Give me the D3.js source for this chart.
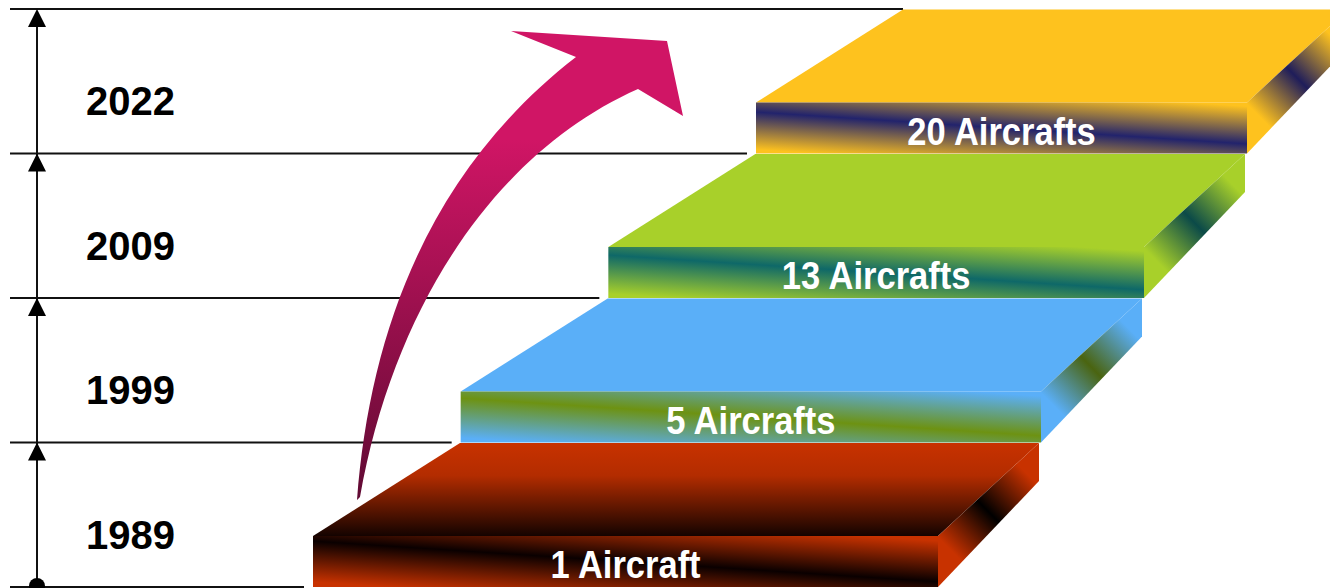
<!DOCTYPE html>
<html>
<head>
<meta charset="utf-8">
<script src="https://cdn.jsdelivr.net/npm/d3@7.9.0/dist/d3.min.js"></script>
<style>
  html, body { margin: 0; padding: 0; background: #fff; overflow: hidden; }
  svg { display: block; font-family: "Liberation Sans", Arial, sans-serif; }
  .grid-line { stroke: #111; stroke-width: 2; }
  .year-label { font-size: 40px; font-weight: bold; fill: #000; }
  .step-label { font-size: 39px; font-weight: bold; fill: #fff; }
</style>
</head>
<body>
<div id="chart"></div>
<script>
// data
const years = ["1989", "1999", "2009", "2022"];
const aircraftCounts = [1, 5, 13, 20];
const stepLabels = aircraftCounts.map(n => n === 1 ? `${n} Aircraft` : `${n} Aircrafts`);

// colours per step: base, band (front), band (side)
const baseColors = ["#c83200", "#5aaff8", "#a8d02a", "#fec21e"];
const bandColors = ["#0a0000", "#6d9212", "#0e6868", "#22236c"];
const sideBands = ["#000000", "#4a6410", "#0b4a48", "#1f1d5a"];

const width = 1330, height = 588;
const frontH = 51;          // front face height
const depthLeft = 147;      // top face shift, left edge
const depthRight = 101;     // top face shift, right edge
const depthY = 93;          // top face depth (vertical)
const sideBack = 38;        // side face height at the back

const svg = d3.select("#chart").append("svg")
  .attr("width", width)
  .attr("height", height);

const defs = svg.append("defs");

// scales
const idx = d3.range(years.length);
const yLevel = d3.scaleLinear().domain([0, years.length]).range([587, 9]);
const xLeft = d3.scaleLinear().domain([0, years.length - 1]).range([313, 756]);
const xRight = d3.scaleLinear().domain([0, years.length - 1]).range([938, 1247]);

const steps = idx.map(i => {
  const T = yLevel(i) - frontH;
  return {
    i, year: years[i], label: stepLabels[i],
    L: xLeft(i), R: xRight(i), T, B: T + frontH
  };
});

// horizontal level lines
const lineEnds = steps.map(s => s.L - 9);
lineEnds.push(steps[steps.length - 1].L + depthLeft);
svg.selectAll("line.grid-line")
  .data(d3.range(years.length + 1))
  .join("line")
    .attr("class", "grid-line")
    .attr("x1", 10)
    .attr("x2", k => lineEnds[k])
    .attr("y1", k => yLevel(k))
    .attr("y2", k => yLevel(k));

// vertical axis with arrow heads
const axisX = 37;
svg.append("line")
  .attr("class", "grid-line")
  .attr("x1", axisX).attr("x2", axisX)
  .attr("y1", yLevel(0)).attr("y2", yLevel(years.length) + 6);

svg.selectAll("path.axis-head")
  .data(d3.range(1, years.length + 1))
  .join("path")
    .attr("class", "axis-head")
    .attr("fill", "#000")
    .attr("d", k => {
      const y = yLevel(k);
      return `M${axisX},${y} L${axisX - 9},${y + 18} L${axisX + 9},${y + 18} Z`;
    });

svg.append("circle")
  .attr("cx", axisX).attr("cy", yLevel(0) - 1).attr("r", 8)
  .attr("fill", "#000");

// year labels
svg.selectAll("text.year-label")
  .data(steps)
  .join("text")
    .attr("class", "year-label")
    .attr("x", 86)
    .attr("y", s => (yLevel(s.i) + yLevel(s.i + 1)) / 2 + 34)
    .text(s => s.year);

// gradients
function bandGradient(id, x1, y1, x2, y2, base, band) {
  const g = defs.append("linearGradient")
    .attr("id", id)
    .attr("gradientUnits", "userSpaceOnUse")
    .attr("x1", x1).attr("y1", y1).attr("x2", x2).attr("y2", y2);
  g.append("stop").attr("offset", 0).attr("stop-color", base);
  g.append("stop").attr("offset", 0.12).attr("stop-color", base);
  g.append("stop").attr("offset", 0.5).attr("stop-color", band);
  g.append("stop").attr("offset", 0.88).attr("stop-color", base);
  g.append("stop").attr("offset", 1).attr("stop-color", base);
}

steps.forEach(s => {
  // front face: band tilted slightly downward to the right
  const k = 0.065;
  const cx = (s.L + s.R) / 2, cy = (s.T + s.B) / 2;
  const w = s.R - s.L;
  const norm = Math.sqrt(1 + k * k);
  const nx = -k / norm, ny = 1 / norm;
  const H = (frontH / 2 + k * w / 2) / norm + 8;
  bandGradient(`front-${s.i}`, cx - nx * H, cy - ny * H, cx + nx * H, cy + ny * H,
    baseColors[s.i], bandColors[s.i]);

  // side face: band across its long axis
  const fx = s.R, fy = (s.T + s.B) / 2;
  const bx = s.R + depthRight, by = s.T - depthY + sideBack / 2;
  bandGradient(`side-${s.i}`, fx, fy, bx, by, baseColors[s.i], sideBands[s.i]);
});

// red top face goes dark toward the front
const redTop = defs.append("linearGradient")
  .attr("id", "top-0")
  .attr("gradientUnits", "userSpaceOnUse")
  .attr("x1", 0).attr("x2", 0)
  .attr("y1", steps[0].T - depthY).attr("y2", steps[0].T);
redTop.append("stop").attr("offset", 0).attr("stop-color", "#c83200");
redTop.append("stop").attr("offset", 0.35).attr("stop-color", "#b32c00");
redTop.append("stop").attr("offset", 1).attr("stop-color", "#140300");

// arrow gradient
const arrowGrad = defs.append("linearGradient")
  .attr("id", "arrow-grad")
  .attr("gradientUnits", "userSpaceOnUse")
  .attr("x1", 0).attr("x2", 0).attr("y1", 140).attr("y2", 500);
arrowGrad.append("stop").attr("offset", 0).attr("stop-color", "#d01565");
arrowGrad.append("stop").attr("offset", 1).attr("stop-color", "#600a33");

// steps, lowest first
const stepG = svg.selectAll("g.step")
  .data(steps)
  .join("g")
    .attr("class", "step");

stepG.append("path")
  .attr("fill", s => s.i === 0 ? "url(#top-0)" : baseColors[s.i])
  .attr("d", s => `M${s.L},${s.T} L${s.L + depthLeft},${s.T - depthY} L${s.R + depthRight},${s.T - depthY} L${s.R},${s.T} Z`);

stepG.append("path")
  .attr("fill", s => `url(#side-${s.i})`)
  .attr("d", s => `M${s.R},${s.T} L${s.R + depthRight},${s.T - depthY} L${s.R + depthRight},${s.T - depthY + sideBack} L${s.R},${s.B} Z`);

stepG.append("rect")
  .attr("x", s => s.L)
  .attr("y", s => s.T)
  .attr("width", s => s.R - s.L)
  .attr("height", frontH)
  .attr("fill", s => `url(#front-${s.i})`);

stepG.append("text")
  .attr("class", "step-label")
  .attr("text-anchor", "middle")
  .attr("transform", s => `translate(${(s.L + s.R) / 2},${s.T + 42}) scale(0.885,1)`)
  .text(s => s.label);

// growth arrow: curved shaft + head
const arrowPath = d3.path();
arrowPath.moveTo(357, 500);
arrowPath.bezierCurveTo(370, 330, 430, 170, 576, 57);
arrowPath.lineTo(511, 31);
arrowPath.lineTo(667, 41);
arrowPath.lineTo(683, 116);
arrowPath.lineTo(638, 89);
arrowPath.bezierCurveTo(500, 150, 395, 300, 360, 497);
arrowPath.closePath();

svg.append("path")
  .attr("fill", "url(#arrow-grad)")
  .attr("d", arrowPath.toString());
</script>
</body>
</html>
